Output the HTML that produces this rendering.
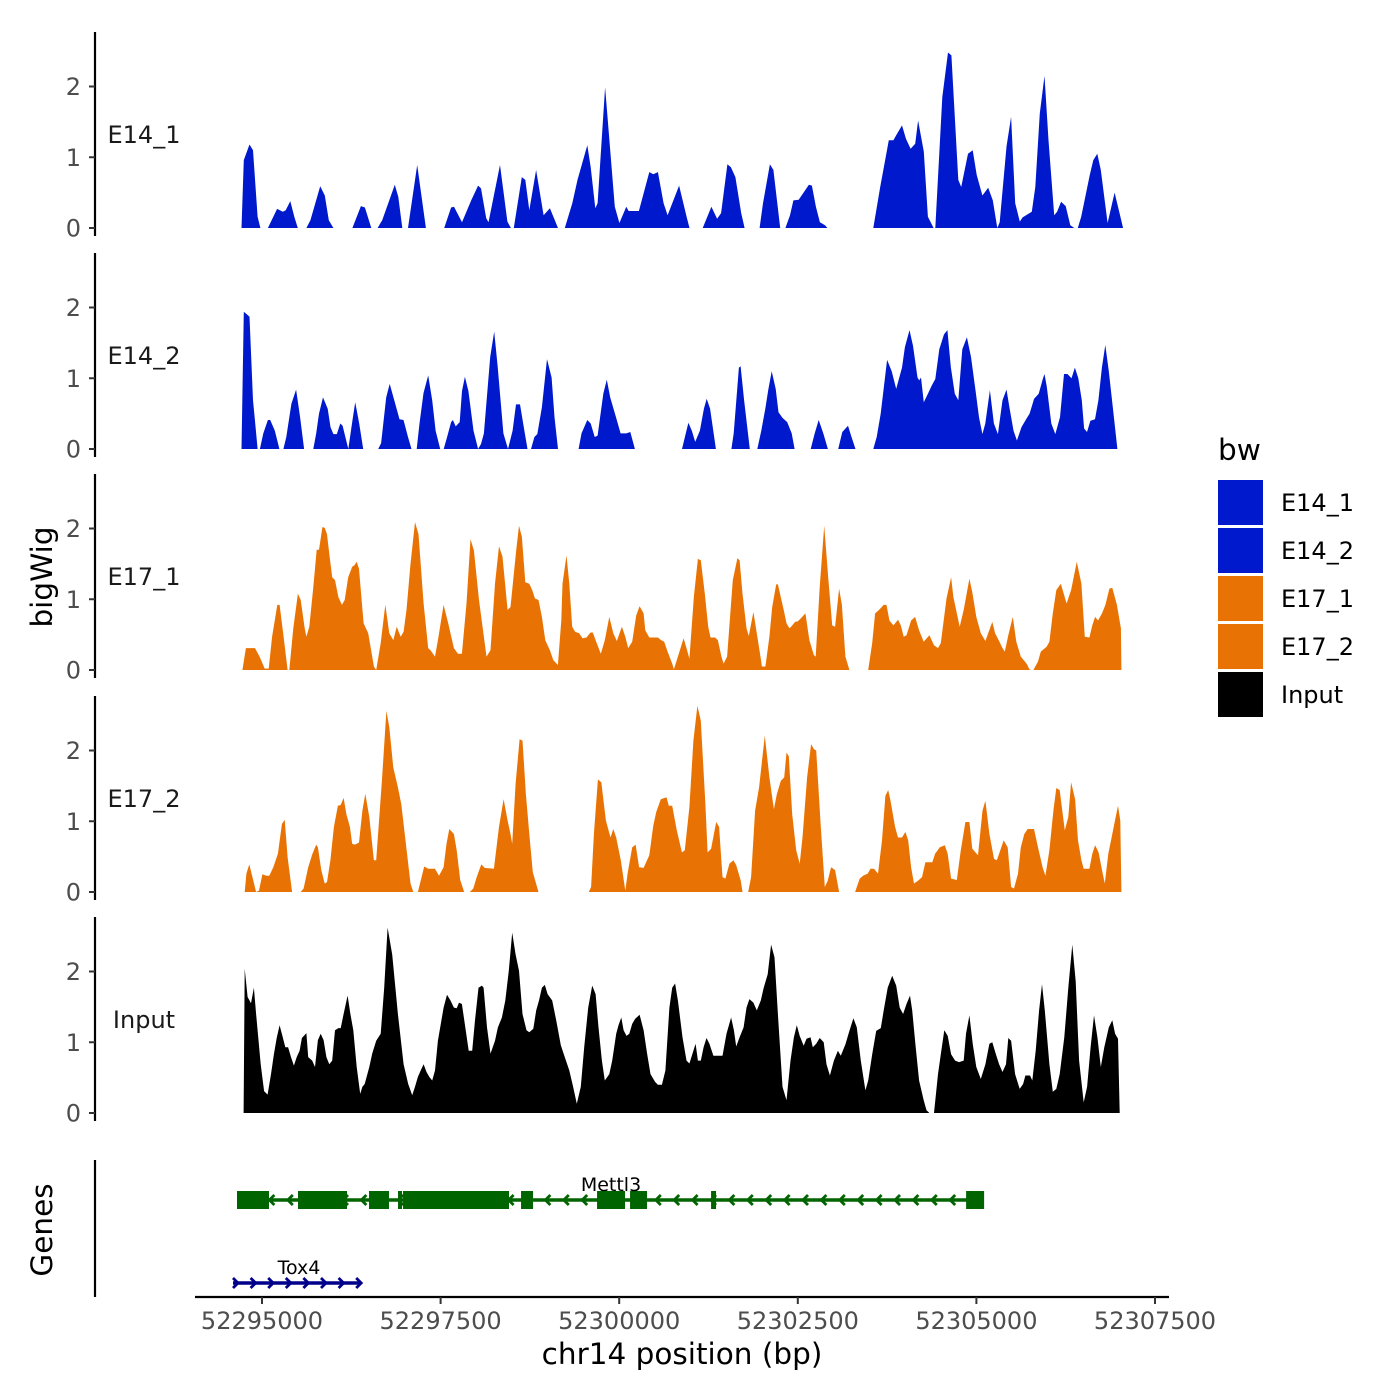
<!DOCTYPE html>
<html><head><meta charset="utf-8"><style>
html,body{margin:0;padding:0;background:#fff;}
svg{display:block;font-family:"DejaVu Sans","Liberation Sans",sans-serif;}
</style></head><body>
<svg id="chart" width="1400" height="1400" viewBox="0 0 1400 1400" xmlns="http://www.w3.org/2000/svg">
<rect width="1400" height="1400" fill="#fff"/>
<g id="panels"></g>
<g id="genes"></g>
<g id="xaxis"></g>
<text x="0" y="0" transform="translate(52,577) rotate(-90)" text-anchor="middle" font-size="29.5" fill="#000">bigWig</text>
<text x="0" y="0" transform="translate(52,1230) rotate(-90)" text-anchor="middle" font-size="29.5" fill="#000">Genes</text>
<text x="682" y="1364" text-anchor="middle" font-size="29.5" fill="#000">chr14 position (bp)</text>
<g id="legend"></g>
</svg>
<script>
const NS="http://www.w3.org/2000/svg";
const regionStart=52294552;
const trackNames=["E14_1","E14_2","E17_1","E17_2","Input"];
const trackColors=["#0019CC","#0019CC","#E87304","#E87304","#000000"];
const yTicks=[0,1,2];
const xTicks=[52295000,52297500,52300000,52302500,52305000,52307500];
const legendLabels=["E14_1","E14_2","E17_1","E17_2","Input"];

const e14_1_pos=[161,193,273,322,386,426, 531,659,740,780,844,900,949, 1069,1126,1262,1327,1383,1447, 1713,1833,1889,1978, 2066,2131,2307,2356,2412, 2492,2621,2742,
2999,3095,3136,3248,3377,3473,3513,3586,3618,3779,3883,3932, 3972,4084,4133,4189,4285,4390,4478,4591,
4687,4792,4864,5001,5049,5113,5146,5250,5387,5451,5548,5580,5724,5869,5925,5990,6070,6126,6287,6392,6432,
6617,6738,6818,6874,6963,7011,7075,7156,7204, 7413,7461,7558,7606,7702, 7775,7839,7887,7960,8104,8145,8201,8257,8329,8362,
9005,9101,9222,9286,9326,9407,9463,9527,9592,9632,9712,9769,9849,9873,9970,10050,10098,10195,10235,10331,10396,10452,10532,10613,10677,10741,10774,10870,10934,10991,11055,11095,11224,11272,11336,11401,11457,11537,11578,11634,11698,11763,11819,
11867,11915,12036,12084,12140,12189,12285,12382,12502];
const e14_1_val=[0,0.96,1.18,1.10,0.16,0, 0,0.27,0.23,0.25,0.38,0.16,0, 0,0.11,0.59,0.46,0.11,0, 0,0.31,0.29,0, 0,0.11,0.61,0.44,0, 0,0.89,0,
0,0.29,0.30,0.08,0.39,0.60,0.56,0.14,0.08,0.89,0.09,0, 0,0.72,0.68,0.25,0.82,0.18,0.28,0,
0,0.35,0.68,1.17,0.86,0.28,0.35,1.99,0.30,0.07,0.30,0.24,0.24,0.79,0.76,0.79,0.35,0.18,0.60,0.16,0,
0,0.30,0.13,0.21,0.90,0.86,0.72,0.21,0, 0,0.35,0.90,0.82,0, 0,0.18,0.39,0.40,0.61,0.60,0.30,0.08,0.04,0,
0,0.58,1.24,1.24,1.31,1.45,1.26,1.12,1.19,1.52,1.08,0.16,0,0,1.85,2.48,2.44,0.68,0.58,1.05,1.10,0.75,0.46,0.57,0.39,0,0.08,1.15,1.57,0.35,0.09,0.15,0.23,0.58,1.62,2.15,1.24,0.18,0.23,0.37,0.31,0.04,0,
0,0.16,0.75,0.96,1.05,0.82,0.07,0.50,0];

const e14_2_pos=[161,193,241,273,322,362,386, 418,466,531,563,627,691, 748,788,860,925,981,1037,
1166,1206,1246,1302,1367,1407,1447,1495,1544,1576,1656,1713,1753,1809,1865,
2074,2115,2187,2235,2316,2372,2428,2492,2541, 2613,2653,2709,2774,2830,2878,2943,
2991,3039,3095,3120,3160,3216,3248,3288,3337,3409,3473,
3513,3554,3642,3698,3747,3827,3891,3956,4004,4060,4116,4165, 4213,4261,4301,4366,4438,4502,4543,4591,
4880,4920,5001,5049,5105,5146,5226,5274,5322,5403,5467,5548,5604,5668,
6327,6368,6416,6464,6512,6577,6633,6673,6721,6802, 7019,7051,7123,7148,7196,7276,
7381,7437,7493,7533,7582,7638,7678,7734,7799,7863,7903, 8128,8185,8241,8305,8370, 8514,8571,8651,8699,8756,
9005,9053,9109,9198,9262,9326,9407,9447,9511,9560,9624,9648,9672,9712,9769,9825,9873,9929,9994,10042,10090,10146,10195,10251,10315,10372,10436,10484,10532,10573,10637,10693,10749,10814,10870,10910,10967,11015,11079,11143,11192,11256,11320,11377,11401,11433,11497,11553,11618,11674,11722,11779,11827,11875,11923,11955,11996,12044,12108,12156,12205,12253,12301,12357,12422,12462];
const e14_2_val=[0,1.94,1.90,1.87,0.69,0.26,0, 0,0.22,0.41,0.41,0.26,0, 0,0.17,0.64,0.84,0.45,0,
0,0.22,0.50,0.73,0.57,0.31,0.21,0.21,0.36,0.33,0,0.40,0.66,0.36,0,
0,0.08,0.73,0.92,0.63,0.42,0.41,0.17,0, 0,0.36,0.79,1.04,0.69,0.26,0,
0,0.17,0.38,0.41,0.32,0.38,0.82,1.02,0.82,0.26,0,
0.07,0.22,1.30,1.66,1.16,0.22,0,0.26,0.63,0.63,0.29,0, 0,0.17,0.21,0.59,1.27,1.01,0.45,0,
0,0.22,0.41,0.36,0.17,0.19,0.78,0.98,0.73,0.45,0.22,0.22,0.24,0,
0,0.17,0.37,0.26,0.10,0.26,0.57,0.71,0.57,0, 0,0.22,1.15,1.17,0.69,0,
0,0.26,0.57,0.83,1.10,0.85,0.52,0.44,0.38,0.22,0, 0,0.22,0.41,0.22,0, 0,0.24,0.33,0.17,0,
0,0.17,0.50,1.26,1.10,0.85,1.15,1.44,1.68,1.46,1.01,0.97,1.01,0.66,0.78,0.90,0.99,1.41,1.62,1.68,1.16,0.78,0.69,1.41,1.58,1.30,0.83,0.45,0.21,0.36,0.83,0.36,0.21,0.69,0.84,0.59,0.26,0.12,0.31,0.42,0.50,0.71,0.78,0.99,1.06,0.88,0.36,0.21,0.45,1.06,1.06,1.00,1.15,1.00,0.69,0.29,0.24,0.40,0.42,0.69,1.15,1.47,1.10,0.59,0,0];

const e17_1_pos=[174,222,350,414,486,542,590,662,694,750,806,830,886,950,990,1046,1070,1110,1166,1214,1246,1294,1326,1358,1390,1430,1470,1518,1566,1606,1654,1710,1742,1774,1806,1870,1934,2014,2046,
2110,2174,2230,2286,2334,2390,2430,2470,2526,2590,2638,2710,2774,2806,2870,2910,2990,3054,3134,3190,3246,3310,3366,3414,3486,3590,3646,3710,3766,3814,3886,3926,4006,4046,4086,4134,4190,4230,4270,4318,4366,4414,4478,4526,4590,
4638,4654,4710,4750,4790,4830,4886,4934,4990,5046,5078,5126,5190,5246,5310,5366,5414,5486,5534,5574,5630,5686,5734,5790,5814,5870,5990,6038,6078,6126,6190,6214,
6270,6350,6398,6430,6494,6550,6590,6646,6694,6726,6790,6830,6878,6910,6958,7038,7102,7134,7174,7230,7262,7326,7374,7430,7446,7494,
7550,7590,7646,7670,7750,7790,7830,7854,7910,7950,7990,8054,8110,8174,8198,8254,8318,8374,8430,8470,8526,8566,8614,8670,
8934,8990,9030,9086,9150,9190,9230,9286,9350,9390,9430,9470,9534,9590,9646,9710,9790,9854,9910,9950,10030,10094,10126,10214,10270,10350,10390,10446,10510,10574,10670,10710,10766,10814,10846,10894,10958,11006,11070,11150,11190,11214,
11246,11310,11350,11430,11470,11518,11566,11630,11670,11710,11774,11854,11918,11966,12030,12070,12110,12150,12206,12254,12310,12350,12414,12470,12478];
const e17_1_val=[0,0.31,0.31,0.19,0.02,0.02,0.47,0.92,0.92,0.47,0,0,0.59,1.08,0.99,0.59,0.47,0.61,1.17,1.70,1.70,2.02,2.01,1.92,1.64,1.31,1.27,1.03,0.92,0.99,1.31,1.46,1.48,1.53,1.43,0.66,0.52,0.05,0,
0.38,0.92,0.52,0.42,0.61,0.47,0.54,0.85,1.50,2.09,1.92,0.94,0.31,0.28,0.19,0.42,0.92,0.66,0.31,0.23,0.23,0.94,1.85,1.69,0.99,0.19,0.28,1.22,1.75,1.60,0.85,0.89,1.69,2.04,1.88,1.24,1.22,1.13,1.01,0.99,0.75,0.42,0.28,0.14,0.07,
0.70,1.22,1.62,1.22,0.61,0.54,0.52,0.45,0.46,0.53,0.53,0.40,0.23,0.42,0.75,0.52,0.41,0.61,0.47,0.31,0.40,0.77,0.90,0.80,0.56,0.46,0.46,0.42,0.40,0.26,0.09,0.01,
0.19,0.45,0.28,0.16,1.04,1.57,1.55,1.08,0.61,0.46,0.46,0.42,0.19,0.09,0.19,1.27,1.58,1.55,1.08,0.59,0.48,0.82,0.52,0.16,0.05,0.05,
0.47,0.89,1.21,1.21,0.85,0.66,0.59,0.61,0.68,0.69,0.73,0.80,0.42,0.21,0.19,1.17,2.04,1.31,0.63,0.61,1.15,0.92,0.19,0,
0,0.38,0.80,0.85,0.92,0.92,0.70,0.63,0.71,0.63,0.47,0.49,0.70,0.75,0.56,0.40,0.49,0.35,0.31,0.38,1.01,1.31,1.03,0.61,0.85,1.29,1.10,0.75,0.52,0.41,0.68,0.52,0.41,0.31,0.26,0.49,0.75,0.40,0.19,0.09,0.01,0,
0,0.12,0.26,0.33,0.40,0.80,1.13,1.22,1.08,0.94,1.13,1.53,1.22,0.47,0.46,0.63,0.75,0.70,0.80,0.92,1.15,1.16,0.92,0.59,0];

const e17_2_pos=[206,230,270,310,366,406,454,510,550,606,670,726,766,806,870,
990,1030,1094,1150,1206,1230,1278,1326,1358,1406,1454,1510,1550,1590,1630,1678,1710,1750,1806,1854,1894,1950,2014,2046,2126,2190,2230,2286,2350,2398,2462,2526,2566,
2630,2670,2718,2774,2870,2926,2990,3030,3070,3134,3174,3222,3278,
3358,3406,3454,3518,3566,3694,3766,3830,3886,3926,3950,3998,4054,4094,4142,4190,4238,4318,
5022,5054,5094,5150,5198,5262,5326,5366,5406,5470,5534,5566,5630,5678,5726,5790,5870,5926,5966,6030,6110,6142,6190,6254,6326,6366,6430,6486,6542,6590,6654,6686,6734,6806,6846,6894,6934,6990,7046,7086,7150,7174,
7254,7294,7350,7406,7486,7550,7614,7654,7710,7758,7790,7822,7870,7926,7974,8014,8078,8134,8174,8206,8270,8326,8366,8414,8470,8526,
8750,8814,8862,8926,8966,9014,9070,9126,9174,9214,9246,9310,9350,9406,9454,9494,9534,9574,9630,9686,9734,9830,9870,9934,10006,10046,10094,10174,10230,10294,10350,10390,10470,10534,10574,10630,10694,10734,10782,10830,10886,10934,10974,11030,11070,11118,11166,11254,11310,11374,11414,11470,11526,11566,11614,11662,11686,11734,11774,11830,11870,11918,11950,12030,12070,12110,12158,12206,12246,12294,12350,12398,12430,12462,12478];
const e17_2_val=[0,0.26,0.39,0.23,0,0.02,0.25,0.23,0.23,0.35,0.54,0.96,1.02,0.49,0,
0,0.05,0.35,0.53,0.67,0.63,0.31,0.12,0.14,0.45,0.92,1.22,1.23,1.33,1.10,0.92,0.68,0.67,0.70,1.15,1.39,1.06,0.45,0.45,1.57,2.56,2.33,1.76,1.48,1.24,0.68,0.12,0,
0,0.16,0.36,0.33,0.33,0.23,0.35,0.68,0.89,0.82,0.59,0.17,0,
0,0.05,0.21,0.39,0.34,0.33,0.92,1.31,1.01,0.82,0.68,1.53,2.16,2.14,1.38,0.82,0.28,0,
0,0.07,0.82,1.59,1.55,1.01,0.77,0.89,0.77,0.45,0.02,0.26,0.63,0.67,0.35,0.34,0.52,0.94,1.13,1.31,1.34,1.22,1.22,0.87,0.56,0.59,1.20,2.14,2.63,2.42,1.24,0.56,0.61,0.99,0.92,0.21,0.19,0.40,0.45,0.38,0.16,0,
0,0.21,1.15,1.48,2.21,1.62,1.17,1.38,1.57,1.62,1.97,1.92,1.10,0.59,0.40,0.77,1.62,2.09,2.02,2.00,0.92,0.07,0.16,0.35,0.31,0,
0,0.19,0.23,0.26,0.33,0.33,0.26,0.73,1.36,1.44,1.29,0.92,0.77,0.77,0.85,0.73,0.35,0.12,0.16,0.21,0.42,0.42,0.54,0.63,0.66,0.54,0.19,0.17,0.59,0.99,0.99,0.61,0.52,1.15,1.29,0.82,0.47,0.45,0.59,0.73,0.63,0.07,0.05,0.26,0.63,0.82,0.89,0.89,0.63,0.35,0.23,0.59,1.15,1.47,1.44,1.06,0.87,1.06,1.55,1.31,0.73,0.45,0.33,0.33,0.54,0.66,0.56,0.31,0.12,0.54,0.82,1.06,1.22,1.01,0];

const input_pos=[190,206,246,294,334,366,430,478,526,574,614,654,694,734,774,814,854,894,934,974,1006,1070,1094,1150,1190,1230,1270,1310,1350,1390,1430,1470,1518,1550,1590,1646,1686,1726,1774,1822,1854,1886,1950,1990,2046,2110,2158,2206,2270,2350,2430,2494,2550,2590,2630,2670,2710,2750,2790,2830,2870,2910,2990,3038,3086,3134,3174,3206,3246,3294,3342,3390,3430,3478,3526,3550,3598,3646,3710,3750,3806,3854,3902,3950,3998,4046,4094,4150,4190,4246,4286,4326,4366,4406,4446,4510,4566,4630,4670,4750,4798,4854,4910,4958,5014,5070,5118,5158,5206,5246,5310,5350,5406,5438,5478,5510,5550,5590,5630,5670,5734,5790,5838,5886,5950,5990,6046,6094,6150,6190,6230,6270,6334,6390,6430,6486,6518,6550,6590,6630,6670,6710,6766,6894,6950,7014,7054,7086,7134,7190,7230,7270,7326,7374,7430,7470,7526,7574,7622,7670,7734,7790,7846,7894,7934,7974,8030,8070,8126,8158,8206,8254,8310,8350,8398,8454,8510,8550,8614,8670,8726,8774,8830,8894,8934,8990,9046,9110,9150,9206,9270,9326,9374,9422,9470,9518,9550,9598,9646,9710,9750,9790,9854,9910,9950,9998,10046,10094,10150,10206,10270,10302,10350,10398,10446,10510,10574,10630,10670,10718,10766,10814,10862,10894,10934,10990,11054,11102,11134,11198,11230,11278,11326,11366,11406,11470,11518,11566,11614,11678,11734,11790,11838,11886,11950,11998,12046,12094,12142,12190,12238,12302,12350,12390,12430,12454];
const input_val=[0,2.04,1.64,1.55,1.77,1.40,0.69,0.31,0.26,0.55,0.83,1.06,1.24,1.09,0.93,0.93,0.79,0.67,0.79,0.88,1.06,1.13,0.79,0.74,0.65,1.03,1.12,1.03,0.79,0.69,0.74,1.17,1.20,1.20,1.40,1.66,1.40,1.17,0.65,0.27,0.37,0.41,0.65,0.84,1.02,1.12,1.77,2.62,2.24,1.40,0.69,0.41,0.25,0.37,0.51,0.60,0.69,0.58,0.51,0.46,0.60,1.02,1.49,1.67,1.59,1.49,1.48,1.56,1.54,1.21,0.88,0.88,1.31,1.77,1.80,1.77,1.21,0.84,1.02,1.21,1.35,1.59,2.01,2.55,2.24,2.01,1.40,1.17,1.14,1.19,1.45,1.59,1.77,1.81,1.68,1.59,1.31,0.96,0.84,0.60,0.39,0.13,0.37,0.93,1.49,1.80,1.68,1.21,0.74,0.46,0.55,0.74,1.12,1.24,1.35,1.17,1.09,1.12,1.26,1.33,1.39,1.17,0.84,0.55,0.44,0.40,0.40,0.60,1.49,1.77,1.83,1.59,1.07,0.74,0.70,0.88,0.98,0.74,0.74,0.93,1.06,0.98,0.81,0.81,1.12,1.35,1.17,0.94,1.07,1.21,1.49,1.61,1.56,1.45,1.59,1.77,1.96,2.38,2.20,1.40,0.37,0.18,0.74,1.07,1.24,1.09,0.95,1.05,1.07,0.93,0.98,1.06,1.00,0.69,0.53,0.74,0.88,0.81,0.97,1.16,1.34,1.21,0.74,0.32,0.46,0.83,1.16,1.20,1.45,1.77,1.94,1.80,1.49,1.40,1.54,1.66,1.45,0.93,0.46,0.18,0.04,0,0,0.55,0.83,1.17,1.09,0.83,0.74,0.72,0.74,1.12,1.38,0.97,0.65,0.48,0.69,0.98,1.00,0.84,0.69,0.58,0.69,1.06,1.02,0.55,0.34,0.41,0.53,0.53,0.46,0.88,1.45,1.82,1.45,0.69,0.30,0.34,0.55,1.07,1.77,2.38,1.86,0.74,0.15,0.37,0.93,1.38,1.07,0.65,0.93,1.21,1.31,1.12,1.05,0];

const trackPos=[e14_1_pos,e14_2_pos,e17_1_pos,e17_2_pos,input_pos];
const trackVal=[e14_1_val,e14_2_val,e17_1_val,e17_2_val,input_val];

const geneNames=["Mettl3","Tox4"];
const geneStarts=[52294692,52294594];
const geneEnds=[52305010,52296386];
const mettl3ExonStarts=[52294650,52295504,52296498,52296904,52296974,52298626,52299690,52300152,52301286,52304856];
const mettl3ExonEnds=[52295098,52296190,52296778,52296960,52298458,52298794,52300082,52300390,52301356,52305108];

function xScale(bp){return 262+(bp-52295000)*(178.6/2500);}
const panelBase=[228,449,670,892,1113];
const panelTop=[32,253,474,696,917];
const unitPx=70.75;
function yScale(v,p){return panelBase[p]-v*unitPx;}
function mk(tag,attrs,parent){const e=document.createElementNS(NS,tag);for(const k in attrs)e.setAttribute(k,attrs[k]);parent.appendChild(e);return e;}

const panels=document.getElementById('panels');
for(let p=0;p<5;p++){
  const g=mk('g',{},panels);
  
  
  const pos=trackPos[p],val=trackVal[p];
  const n=Math.min(pos.length,val.length);
  let d='M'+xScale(regionStart+pos[0]).toFixed(1)+','+panelBase[p];
  for(let i=0;i<n;i++){d+='L'+xScale(regionStart+pos[i]).toFixed(1)+','+yScale(val[i],p).toFixed(1);}
  d+='L'+xScale(regionStart+pos[n-1]).toFixed(1)+','+panelBase[p]+'Z';
  const area=mk('path',{d:d,fill:trackColors[p],stroke:'none'},g);
  
  
  const ax=mk('line',{x1:95,x2:95,y1:panelTop[p],y2:panelBase[p]+8,stroke:'#000','stroke-width':2.2},g);
  
  
  yTicks.forEach(t=>{
    const y=yScale(t,p);
    const tk=mk('line',{x1:89,x2:95,y1:y,y2:y,stroke:'#333','stroke-width':2},g);
    
    
    const tl=mk('text',{x:81,y:y+8.5,'text-anchor':'end','font-size':24,fill:'#4d4d4d'},g);
    tl.textContent=t;
    
    
  });
  const lab=mk('text',{x:144,y:(panelBase[p]+panelTop[p])/2+13,'text-anchor':'middle','font-size':24,fill:'#1a1a1a'},g);
  lab.textContent=trackNames[p];
  
  
}

// genes
const genes=document.getElementById('genes');
const gax=mk('line',{x1:95,x2:95,y1:1160,y2:1297,stroke:'#000','stroke-width':2.2},genes);


(function(){
  const g=mk('g',{},genes);
  
  
  const y=1200,x0=xScale(geneStarts[0]),x1=xScale(geneEnds[0]);
  mk('line',{x1:x0,x2:x1,y1:y,y2:y,stroke:'#006400','stroke-width':3.5},g);
  for(let x=x0+12;x<x1-8;x+=18.4){
    mk('polyline',{points:(x+4)+','+(y-5)+' '+(x-1)+','+y+' '+(x+4)+','+(y+5),fill:'none',stroke:'#006400','stroke-width':2.8},g);
  }
  for(let i=0;i<mettl3ExonStarts.length;i++){
    const a=xScale(mettl3ExonStarts[i]),b=xScale(mettl3ExonEnds[i]);
    const r=mk('rect',{x:a,y:y-9,width:Math.max(3,b-a),height:18,fill:'#006400'},g);
    
    
  }
  const t=mk('text',{x:611,y:1191,'text-anchor':'middle','font-size':19,fill:'#000'},g);
  t.textContent=geneNames[0];
  
  
})();
(function(){
  const g=mk('g',{},genes);
  
  
  const y=1283,x0=xScale(geneStarts[1]),x1=xScale(geneEnds[1]);
  mk('line',{x1:x0,x2:x1,y1:y,y2:y,stroke:'#00008B','stroke-width':3.5},g);
  for(let x=x0+4;x<=x1;x+=17.6){
    mk('polyline',{points:(x-4)+','+(y-5)+' '+(x+1)+','+y+' '+(x-4)+','+(y+5),fill:'none',stroke:'#00008B','stroke-width':2.8},g);
  }
  const t=mk('text',{x:299,y:1274,'text-anchor':'middle','font-size':19,fill:'#000'},g);
  t.textContent=geneNames[1];
  
  
})();

// x axis
const xa=document.getElementById('xaxis');
mk('line',{x1:195,x2:1169,y1:1297,y2:1297,stroke:'#000','stroke-width':2.2},xa);
xTicks.forEach(t=>{
  const x=xScale(t);
  const tk=mk('line',{x1:x,x2:x,y1:1297,y2:1304,stroke:'#333','stroke-width':2},xa);
  
  
  const tl=mk('text',{x:x,y:1329,'text-anchor':'middle','font-size':24,fill:'#4d4d4d'},xa);
  tl.textContent=t;
  
  
});

// legend
const lg=document.getElementById('legend');
const lt=mk('text',{x:1218,y:460,'font-size':29.5,fill:'#000'},lg);
lt.textContent='bw';


legendLabels.forEach((l,i)=>{
  const y=480+i*48;
  const k=mk('rect',{x:1218,y:y,width:45,height:45,fill:trackColors[i]},lg);
  
  
  const t=mk('text',{x:1281,y:y+31,'font-size':24,fill:'#000'},lg);
  t.textContent=l;
  
  
});
</script>
</body></html>
